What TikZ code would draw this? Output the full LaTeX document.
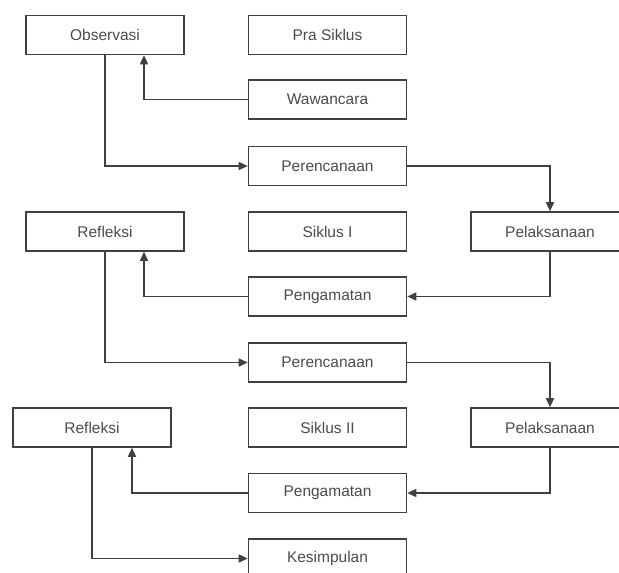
\documentclass[tikz,border=0pt]{standalone}
\usepackage{fontspec}
\setmainfont{Liberation Sans}
\usetikzlibrary{arrows.meta}

\tikzset{
    kotak/.style={draw=black!75, line width=1.6pt, fill=white, minimum width=158pt,
        minimum height=39pt, inner sep=0pt, text=black!70, font=\fontsize{15.5}{18}\selectfont},
    panah/.style={draw=black!75, line width=1.5pt, -{Triangle[length=9pt,width=8pt]}}
}

\begin{document}
\begin{tikzpicture}[x=1pt,y=-1pt]
        % page
            \useasboundingbox (0,0) rectangle (619,573);
            \clip (0,0) rectangle (619,573);
            \fill[white] (0,0) rectangle (619,573);
        % pra siklus
            \node[kotak] (obs) at (105,35) {Observasi};
            \node[kotak] (pra) at (327.5,35) {Pra Siklus};
            \node[kotak] (waw) at (327.5,99.5) {Wawancara};
        % siklus I
            \node[kotak] (per1) at (327.5,166) {Perencanaan};
            \node[kotak] (ref1) at (105,231.5) {Refleksi};
            \node[kotak] (sik1) at (327.5,231.5) {Siklus I};
            \node[kotak] (pel1) at (550,231.5) {Pelaksanaan};
            \node[kotak] (pen1) at (327.5,296.5) {Pengamatan};
        % siklus II
            \node[kotak] (per2) at (327.5,362.5) {Perencanaan};
            \node[kotak] (ref2) at (92,427.5) {Refleksi};
            \node[kotak] (sik2) at (327.5,427.5) {Siklus II};
            \node[kotak] (pel2) at (550,427.5) {Pelaksanaan};
            \node[kotak] (pen2) at (327.5,493) {Pengamatan};
            \node[kotak] (kes) at (327.5,558.5) {Kesimpulan};
        % arrows
            \draw[panah] (waw.west) -| ([xshift=39pt]obs.south);
            \draw[panah] (obs.south) |- (per1.west);
            \draw[panah] (per1.east) -| (pel1.north);
            \draw[panah] (pel1.south) |- (pen1.east);
            \draw[panah] (pen1.west) -| ([xshift=39pt]ref1.south);
            \draw[panah] (ref1.south) |- (per2.west);
            \draw[panah] (per2.east) -| (pel2.north);
            \draw[panah] (pel2.south) |- (pen2.east);
            \draw[panah] (pen2.west) -| ([xshift=40pt]ref2.south);
            \draw[panah] (ref2.south) |- (kes.west);
    \end{tikzpicture}
\end{document}
